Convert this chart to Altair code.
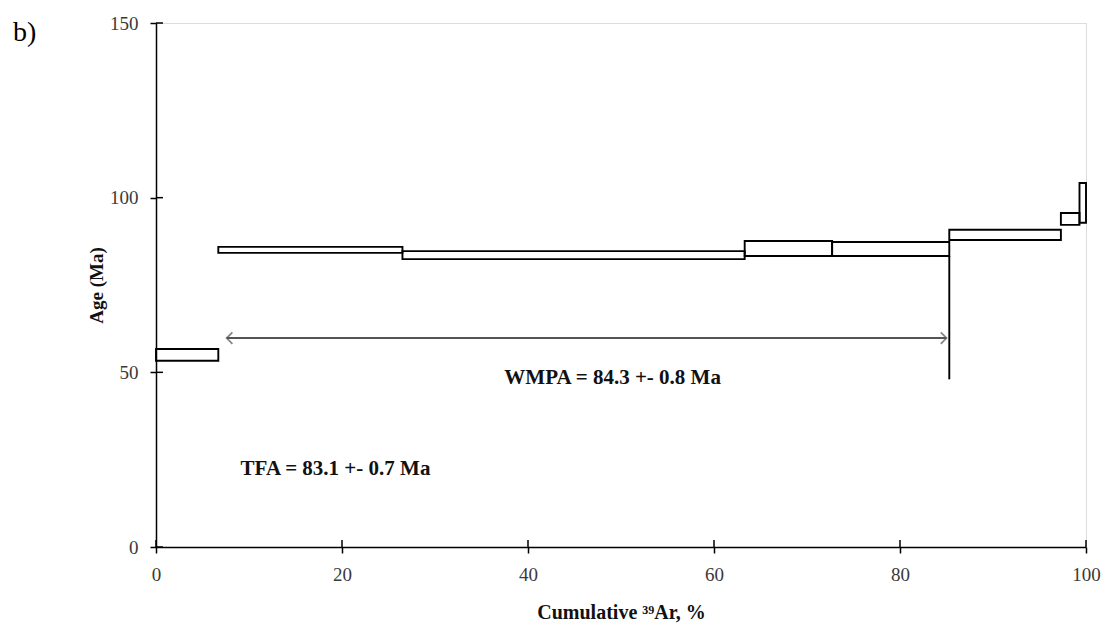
import altair as alt
import pandas as pd

# Step-heating age spectrum (plateau boxes)
x_start = [0, 6.7, 26.5, 63.3, 72.7, 85.3, 97.3, 99.3]
x_end = [6.7, 26.5, 63.3, 72.7, 85.3, 97.3, 99.3, 100]
age_low = [53.3, 84.2, 82.4, 83.3, 83.3, 87.9, 92.2, 92.8]
age_high = [56.7, 85.9, 84.7, 87.6, 87.3, 90.8, 95.6, 104.2]

# Plateau arrow
arrow_x = [7.6, 85.0]
arrow_age = 59.8
plateau_end_x = 85.3
plateau_line_ages = [83.3, 48.0]

# Annotations
labels = ["WMPA = 84.3 +- 0.8 Ma", "TFA = 83.1 +- 0.7 Ma"]
label_x = [49.1, 19.3]
label_age = [48.4, 22.3]

x_ticks = [0, 20, 40, 60, 80, 100]
y_ticks = [0, 50, 100, 150]

steps = pd.DataFrame({"x0": x_start, "x1": x_end, "lo": age_low, "hi": age_high})
arrow = pd.DataFrame({"x0": [arrow_x[0]], "x1": [arrow_x[1]], "y": [arrow_age]})
heads = pd.DataFrame({"x": arrow_x, "y": [arrow_age, arrow_age], "side": ["L", "R"]})
vline = pd.DataFrame({"x": [plateau_end_x], "y0": [plateau_line_ages[0]], "y1": [plateau_line_ages[1]]})
ann = pd.DataFrame({"t": labels, "x": label_x, "y": label_age})
xt = pd.DataFrame({"v": x_ticks})
yt = pd.DataFrame({"v": y_ticks})

xs = alt.Scale(domain=[0, 100], nice=False)
ys = alt.Scale(domain=[0, 150], nice=False)

SERIF = "Liberation Serif"
xax = alt.Axis(values=x_ticks, title="Cumulative \u00b3\u2079Ar, %", grid=False, tickSize=6,
               labelFont=SERIF, labelFontSize=19, labelColor="#3a3a3a", labelFlush=False,
               titleFont=SERIF, titleFontSize=20, titleFontWeight="bold",
               titleColor="#111", labelPadding=12, titlePadding=18,
               domainColor="black", tickColor="black", domainWidth=1.5, tickWidth=1.5)
yax = alt.Axis(values=y_ticks, title="Age (Ma)", grid=False, tickSize=6,
               labelFont=SERIF, labelFontSize=19, labelColor="#3a3a3a", labelFlush=False,
               titleFont=SERIF, titleFontSize=19, titleFontWeight="bold",
               titleColor="#111", labelPadding=12, titlePadding=3,
               domainColor="black", tickColor="black", domainWidth=1.5, tickWidth=1.5)

boxes = alt.Chart(steps).mark_rect(fill=None, stroke="black", strokeWidth=1.9).encode(
    x=alt.X("x0:Q", scale=xs, axis=xax), x2="x1:Q",
    y=alt.Y("lo:Q", scale=ys, axis=yax), y2="hi:Q")

# inner halves of the crossing ticks
ytick_in = alt.Chart(yt).mark_rule(color="black", strokeWidth=1.5).encode(
    x=alt.value(0), x2=alt.value(7), y=alt.Y("v:Q", scale=ys))
xtick_in = alt.Chart(xt).mark_rule(color="black", strokeWidth=1.5).encode(
    x=alt.X("v:Q", scale=xs), y=alt.value(524), y2=alt.value(517))

arrow_line = alt.Chart(arrow).mark_rule(color="#555", strokeWidth=2).encode(
    x=alt.X("x0:Q", scale=xs), x2="x1:Q", y=alt.Y("y:Q", scale=ys))

left_head = alt.Chart(heads[heads.side == "L"]).mark_point(
    shape="M1,-1 L0,0 L1,1", filled=False, stroke="#555", strokeWidth=1.8, size=130).encode(
    x=alt.X("x:Q", scale=xs), y=alt.Y("y:Q", scale=ys))
right_head = alt.Chart(heads[heads.side == "R"]).mark_point(
    shape="M-1,-1 L0,0 L-1,1", filled=False, stroke="#555", strokeWidth=1.8, size=130).encode(
    x=alt.X("x:Q", scale=xs), y=alt.Y("y:Q", scale=ys))

vrule = alt.Chart(vline).mark_rule(color="black", strokeWidth=1.9).encode(
    x=alt.X("x:Q", scale=xs), y=alt.Y("y0:Q", scale=ys), y2="y1:Q")

text = alt.Chart(ann).mark_text(font=SERIF, fontSize=21, fontWeight="bold",
                                color="#111", align="center", baseline="middle").encode(
    x=alt.X("x:Q", scale=xs), y=alt.Y("y:Q", scale=ys), text="t:N")

panel = alt.Chart(pd.DataFrame({"t": ["b)"]})).mark_text(
    font=SERIF, fontSize=28, align="left", baseline="middle", color="black").encode(
    x=alt.value(-143), y=alt.value(10), text="t:N")

chart = alt.layer(boxes, ytick_in, xtick_in, arrow_line, left_head, right_head, vrule, text, panel).properties(
    width=930, height=524,
    autosize=alt.AutoSizeParams(type="none"),
    padding={"left": 148, "top": 15, "right": 20, "bottom": 80},
).configure_view(stroke="black", strokeWidth=1.5).configure(background="white")

chart.save("out.html", embed_options={"renderer": "svg", "actions": False})
